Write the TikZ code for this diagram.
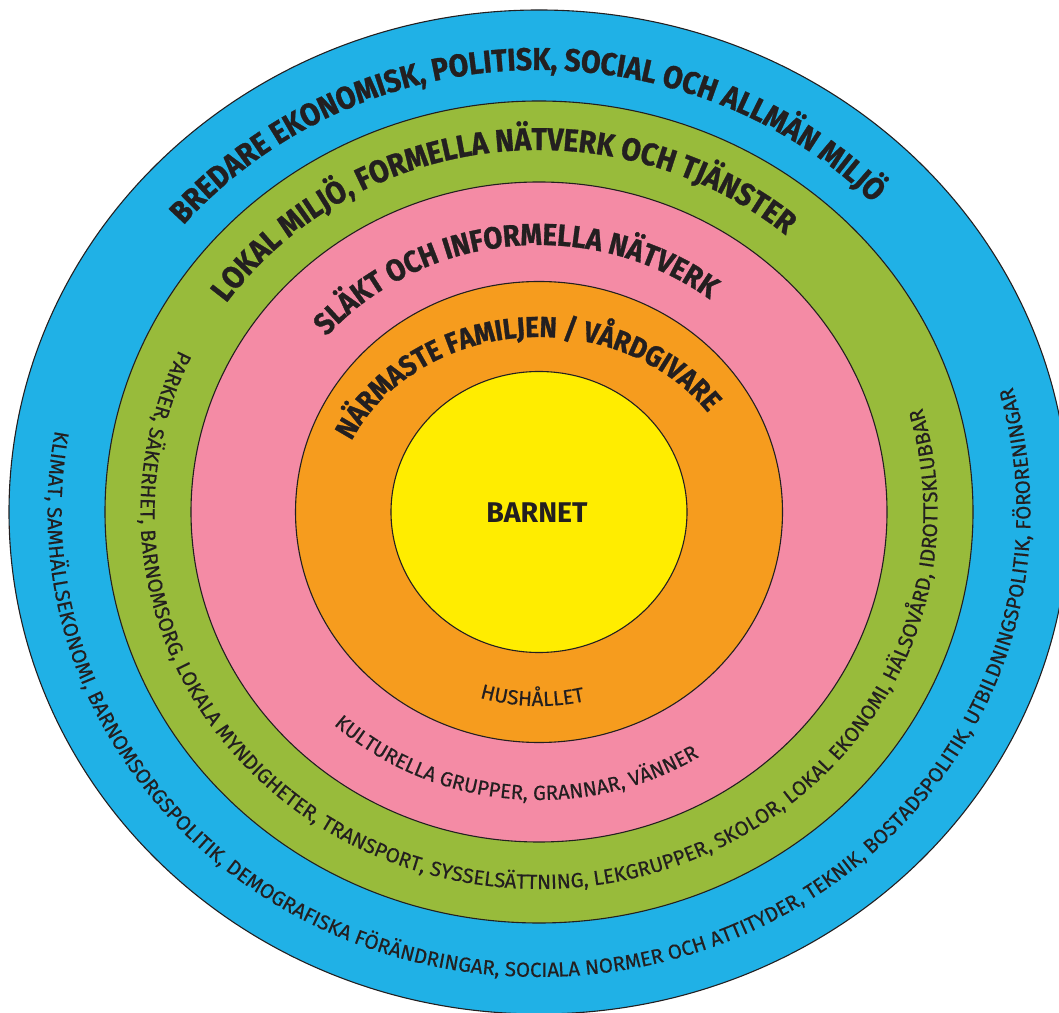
\documentclass[tikz,border=0pt]{standalone}
\usepackage{fontspec}
\setmainfont{Fira Sans}
\newfontfamily\heavyfont{Fira Sans}[FakeStretch=0.9, FakeBold=1]
\newfontfamily\smallfont{Fira Sans}[FakeBold=0.3]
\usetikzlibrary{decorations.text,calc}
\definecolor{ringblue}{RGB}{32,177,230}
\definecolor{ringgreen}{RGB}{152,187,59}
\definecolor{ringpink}{RGB}{244,139,165}
\definecolor{ringorange}{RGB}{246,156,30}
\definecolor{ringyellow}{RGB}{255,237,0}
\definecolor{linecol}{RGB}{35,31,32}
\definecolor{txt}{RGB}{35,31,32}
\newcommand\hv[1]{\heavyfont\bfseries\fontsize{#1}{#1}\selectfont}
\newcommand\sm{\smallfont\fontsize{20.5}{20.5}\selectfont}
\tikzset{
  ring/.style={draw=linecol, line width=1.1pt},
  arctext/.style={decorate, decoration={text along path, text align=center, text color=txt, text={#1}}}
}
\begin{document}
\begin{tikzpicture}[x=1pt,y=1pt]
\useasboundingbox (0,0) rectangle (1059,1012);
\clip (0,0) rectangle (1059,1012);
\coordinate (C) at (539,500);
% rings
\path[ring, fill=ringblue] (C) ellipse [x radius=530, y radius=502];
\path[ring, fill=ringgreen] (C) ellipse [x radius=434, y radius=411];
\path[ring, fill=ringpink] (C) ellipse [x radius=348, y radius=330];
\path[ring, fill=ringorange] (C) ellipse [x radius=243.5, y radius=230.5];
\path[ring, fill=ringyellow] (C) ellipse [x radius=148, y radius=140.5];
% centre label
\node[text=txt, font=\bfseries\fontsize{28.5}{28.5}\selectfont] (barnet) at (537,499) {BARNET};
% top headings
\path[arctext={|\hv{31.5}|BREDARE EKONOMISK, POLITISK, SOCIAL OCH ALLMÄN MILJÖ}]
  ($(C)+(172:467 and 442)$) arc[start angle=172, end angle=12, x radius=467, y radius=442];
\path[arctext={|\hv{31.5}|LOKAL MILJÖ, FORMELLA NÄTVERK OCH TJÄNSTER}]
  ($(C)+(177.5:382.7 and 362)$) arc[start angle=177.5, end angle=17.5, x radius=382.7, y radius=362];
\path[arctext={|\hv{30.5}|SLÄKT OCH INFORMELLA NÄTVERK}]
  ($(C)+(176:282 and 267)$) arc[start angle=176, end angle=16, x radius=282, y radius=267];
\path[arctext={|\hv{29}|NÄRMASTE FAMILJEN / VÅRDGIVARE}]
  ($(C)+(175.5:205 and 175)$) arc[start angle=175.5, end angle=15.5, x radius=205, y radius=175];
% bottom labels
\path[arctext={|\sm|HUSHÅLLET}]
  ($(C)+(208:205 and 194)$) arc[start angle=208, end angle=328, x radius=205, y radius=194];
\path[arctext={|\sm|KULTURELLA GRUPPER, GRANNAR, VÄNNER}]
  ($(C)+(174.5:304.4 and 288)$) arc[start angle=174.5, end angle=354.5, x radius=304.4, y radius=288];
\path[arctext={|\sm|PARKER, SÄKERHET, BARNOMSORG, LOKALA MYNDIGHETER, TRANSPORT, SYSSELSÄTTNING, LEKGRUPPER, SKOLOR, LOKAL EKONOMI, HÄLSOVÅRD, IDROTTSKLUBBAR}]
  ($(C)+(85.5:398.5 and 377)$) arc[start angle=85.5, end angle=445.5, x radius=398.5, y radius=377];
\path[arctext={|\sm|KLIMAT, SAMHÄLLSEKONOMI, BARNOMSORGSPOLITIK, DEMOGRAFISKA FÖRÄNDRINGAR, SOCIALA NORMER OCH ATTITYDER, TEKNIK, BOSTADSPOLITIK, UTBILDNINGSPOLITIK, FÖRORENINGAR}]
  ($(C)+(92.6:491.5 and 465)$) arc[start angle=92.6, end angle=452.6, x radius=491.5, y radius=465];
\end{tikzpicture}
\end{document}
